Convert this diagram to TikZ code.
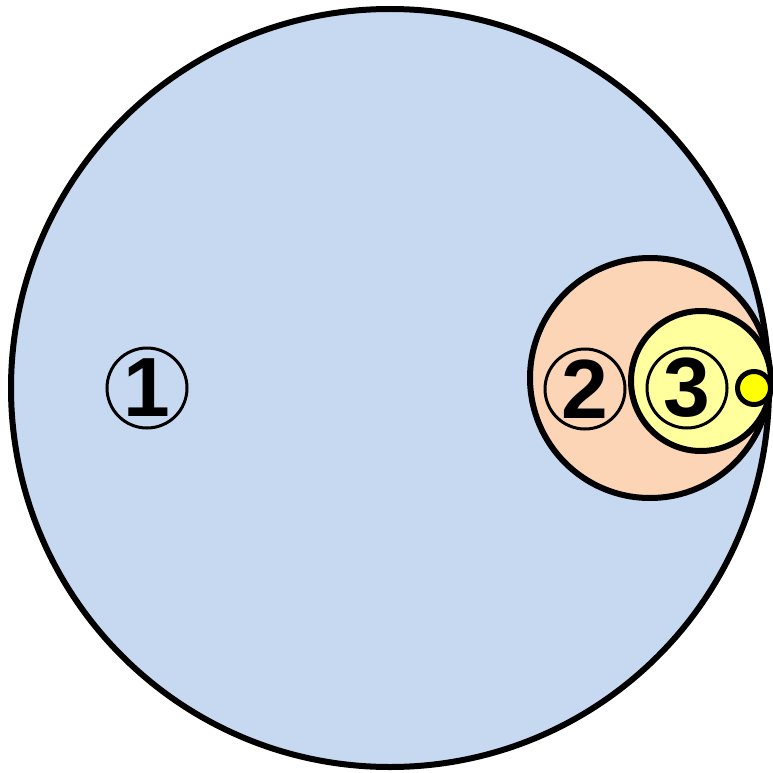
\documentclass[tikz,border=0pt]{standalone}
\usepackage{fontspec}
\setmainfont{Liberation Sans}
\definecolor{bigblue}{RGB}{198,217,240}
\definecolor{peach}{RGB}{251,213,181}
\definecolor{lightyellow}{RGB}{255,255,158}
\definecolor{dotyellow}{RGB}{255,255,0}
\tikzset{
  ring/.style={circle, draw=black, line width=6pt, inner sep=0pt, minimum size=#1},
  numlabel/.style={circle, draw=black, line width=3pt, inner sep=0pt, minimum size=80pt,
    font=\fontsize{84}{84}\selectfont\bfseries}
}
\begin{document}
\begin{tikzpicture}[x=1pt,y=-1pt]
\useasboundingbox (0,0) rectangle (772,773);
\node[ring=758pt, fill=bigblue] (big) at (390,388) {};
\node[ring=240pt, fill=peach] (mid) at (650,378) {};
\node[ring=140pt, fill=lightyellow] (small) at (701,381) {};
\node[ring=33pt, line width=5pt, fill=dotyellow] (dot) at (754,388) {};
\node[numlabel] (n1) at (147,388) {1};
\node[numlabel] (n2) at (585,389) {2};
\node[numlabel] (n3) at (687,388) {3};
\end{tikzpicture}
\end{document}
